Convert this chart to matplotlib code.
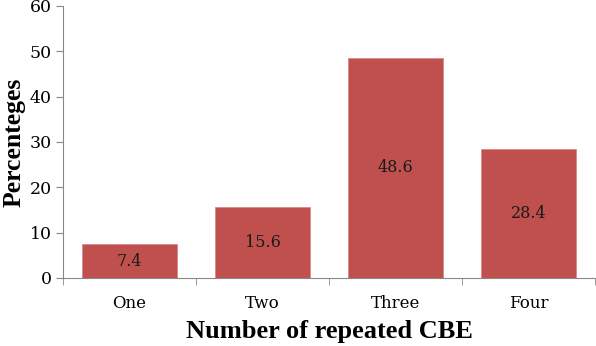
import numpy as np
import matplotlib.pyplot as plt

categories = ["One", "Two", "Three", "Four"]
values = [7.4, 15.6, 48.6, 28.4]
yticks = [0, 10, 20, 30, 40, 50, 60]

fig = plt.figure(figsize=(5.96, 3.46), dpi=100)
ax = fig.add_axes([63/596, 1-278/346, 532/596, 272/346])

x = np.arange(len(categories))
bars = ax.bar(x, values, width=0.71, color="#C0504D", edgecolor="#D88A88", linewidth=0.6)

for xi, v in zip(x, values):
    ax.text(xi, v / 2, f"{v}", ha="center", va="center", fontsize=11.5,
            family="DejaVu Serif", color="#1a1a1a")

ax.set_xlim(-0.5, len(categories) - 0.5)
ax.set_ylim(0, 60)
ax.set_yticks(yticks)
ax.set_yticklabels([str(t) for t in yticks], family="DejaVu Serif", fontsize=12.5)

# category labels centred, ticks at the boundaries
ax.set_xticks(x)
ax.set_xticklabels(categories, family="DejaVu Serif", fontsize=12)
ax.tick_params(axis="x", which="major", length=0, pad=12)
ax.set_xticks(np.arange(len(categories) + 1) - 0.5, minor=True)
ax.tick_params(axis="x", which="minor", length=5, color="#888888", direction="out")
ax.tick_params(axis="y", length=5, color="#888888", direction="out", pad=3)

for s in ["top", "right"]:
    ax.spines[s].set_visible(False)
ax.spines["left"].set_color("#888888")
ax.spines["bottom"].set_color("#888888")

ax.set_ylabel("Percenteges", family="Liberation Serif", fontweight="bold", fontsize=18.5, labelpad=3)
ax.set_xlabel("Number of repeated CBE", family="Liberation Serif", fontweight="bold", fontsize=19, labelpad=6)

fig.savefig("out.png", dpi=100)
